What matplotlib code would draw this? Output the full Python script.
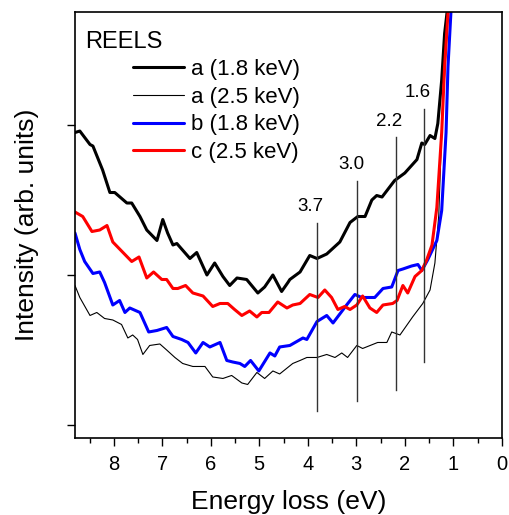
import matplotlib
matplotlib.use("Agg")
from matplotlib import pyplot as plt
from matplotlib.ticker import MultipleLocator

plt.rcParams['font.family'] = ['Liberation Sans', 'DejaVu Sans']

# spectra: energy loss (eV), intensity (arb. units)
a18_x = [8.80, 8.70, 8.49, 8.43, 8.23, 8.08, 7.98, 7.73, 7.63, 7.46, 7.32, 7.11, 6.99, 6.89,
         6.78, 6.70, 6.43, 6.29, 6.08, 5.92, 5.75, 5.61, 5.46, 5.26, 5.03, 4.89, 4.72, 4.54,
         4.41, 4.37, 4.16, 3.96, 3.81, 3.61, 3.34, 3.13, 2.97, 2.82, 2.68, 2.58, 2.47, 2.21,
         2.00, 1.75, 1.65, 1.59, 1.48, 1.38, 1.32, 1.24, 1.18, 1.13, 1.11]
a18_y = [1.95, 1.96, 1.87, 1.86, 1.70, 1.55, 1.55, 1.48, 1.48, 1.39, 1.30, 1.23, 1.37, 1.28,
         1.20, 1.21, 1.11, 1.15, 1.00, 1.08, 0.99, 0.93, 0.98, 0.97, 0.88, 0.92, 1.00, 0.89,
         0.95, 0.97, 1.02, 1.13, 1.11, 1.14, 1.22, 1.35, 1.39, 1.39, 1.50, 1.53, 1.52, 1.63,
         1.68, 1.77, 1.88, 1.87, 1.93, 1.91, 2.01, 2.30, 2.61, 2.75, 2.85]

a25_x = [8.80, 8.70, 8.49, 8.35, 8.19, 8.02, 7.84, 7.71, 7.61, 7.51, 7.40, 7.26, 7.05, 6.91,
         6.74, 6.58, 6.37, 6.12, 5.96, 5.75, 5.57, 5.36, 5.24, 5.05, 4.89, 4.72, 4.58, 4.31,
         4.16, 4.02, 3.81, 3.61, 3.44, 3.30, 3.18, 2.99, 2.87, 2.56, 2.37, 2.27, 2.10, 1.84,
         1.63, 1.48, 1.38, 1.30, 1.26, 1.22, 1.13, 1.11, 1.09]
a25_y = [0.93, 0.85, 0.73, 0.75, 0.71, 0.70, 0.67, 0.58, 0.60, 0.57, 0.47, 0.53, 0.54, 0.50,
         0.45, 0.41, 0.39, 0.39, 0.32, 0.31, 0.33, 0.28, 0.27, 0.35, 0.31, 0.36, 0.34, 0.41,
         0.43, 0.45, 0.45, 0.47, 0.45, 0.48, 0.45, 0.53, 0.51, 0.55, 0.55, 0.62, 0.60, 0.72,
         0.81, 0.90, 1.08, 1.40, 1.77, 2.10, 2.61, 2.75, 2.85]

b18_x = [8.80, 8.70, 8.60, 8.43, 8.29, 8.19, 8.02, 7.88, 7.77, 7.67, 7.46, 7.28, 7.11, 6.91,
         6.78, 6.60, 6.47, 6.31, 6.16, 6.02, 5.81, 5.67, 5.55, 5.40, 5.30, 5.18, 5.01, 4.78,
         4.68, 4.58, 4.37, 4.10, 4.02, 3.81, 3.61, 3.48, 3.20, 3.03, 2.89, 2.62, 2.45, 2.27,
         2.14, 2.04, 1.86, 1.73, 1.65, 1.53, 1.34, 1.24, 1.15, 1.11, 1.05, 1.03]
b18_y = [1.28, 1.17, 1.09, 1.01, 1.02, 0.95, 0.80, 0.83, 0.75, 0.78, 0.75, 0.62, 0.63, 0.65,
         0.59, 0.57, 0.55, 0.48, 0.55, 0.52, 0.55, 0.43, 0.42, 0.41, 0.39, 0.43, 0.36, 0.48,
         0.46, 0.52, 0.53, 0.58, 0.57, 0.69, 0.73, 0.68, 0.80, 0.87, 0.85, 0.85, 0.91, 0.92,
         1.03, 1.04, 1.06, 1.07, 1.03, 1.10, 1.23, 1.43, 1.95, 2.39, 2.75, 2.85]

c25_x = [8.80, 8.64, 8.45, 8.29, 8.14, 8.02, 7.81, 7.63, 7.48, 7.32, 7.18, 7.01, 6.91, 6.78,
         6.68, 6.52, 6.37, 6.16, 5.96, 5.81, 5.65, 5.51, 5.36, 5.20, 5.05, 4.95, 4.80, 4.62,
         4.43, 4.31, 4.16, 3.96, 3.79, 3.65, 3.51, 3.38, 3.24, 3.13, 2.99, 2.87, 2.72, 2.58,
         2.45, 2.25, 2.16, 2.04, 1.94, 1.79, 1.65, 1.55, 1.44, 1.38, 1.34, 1.24, 1.18, 1.11, 1.09]
c25_y = [1.42, 1.39, 1.29, 1.30, 1.33, 1.22, 1.15, 1.09, 1.12, 0.98, 1.02, 0.97, 0.97, 0.91,
         0.91, 0.93, 0.88, 0.86, 0.79, 0.81, 0.81, 0.77, 0.73, 0.76, 0.72, 0.75, 0.75, 0.82,
         0.78, 0.80, 0.81, 0.87, 0.85, 0.90, 0.85, 0.77, 0.79, 0.77, 0.80, 0.86, 0.78, 0.75,
         0.80, 0.81, 0.83, 0.93, 0.88, 0.99, 1.03, 1.10, 1.20, 1.35, 1.45, 1.95, 2.39, 2.75, 2.85]

# band gap markers
mark_pos = [3.82, 2.98, 2.19, 1.61]
mark_lab = ["3.7", "3.0", "2.2", "1.6"]
mark_top = [1.35, 1.63, 1.92, 2.11]
mark_bot = [0.09, 0.16, 0.23, 0.42]

fig = plt.figure(figsize=(5.1, 5.15), dpi=100)
ax = fig.add_axes([0.147, 0.1495, 0.837, 0.827])

kw = dict(solid_joinstyle='round', solid_capstyle='round')
ax.plot(a18_x, a18_y, color='black', lw=2.2, label='a (1.8 keV)', **kw)
ax.plot(a25_x, a25_y, color='black', lw=0.8, label='a (2.5 keV)', **kw)
ax.plot(b18_x, b18_y, color='#0000ff', lw=2.2, label='b (1.8 keV)', **kw)
ax.plot(c25_x, c25_y, color='#ff0000', lw=2.2, label='c (2.5 keV)', **kw)

for p, l, t, b in zip(mark_pos, mark_lab, mark_top, mark_bot):
    ax.plot([p, p], [b, t], color='#333333', lw=1.0)
    ax.text(p + 0.13, t + 0.05, l, ha='center', va='bottom', fontsize=13.5)

ax.set_xlim(8.8, 0)
ax.set_ylim(-0.087, 2.753)
ax.xaxis.set_major_locator(MultipleLocator(1))
ax.xaxis.set_minor_locator(MultipleLocator(0.5))
ax.set_yticks([0, 1, 2])
ax.set_yticklabels([])
ax.tick_params(axis='both', which='major', direction='out', length=6, width=1, labelsize=14.5, pad=6)
ax.tick_params(axis='x', which='minor', direction='out', length=3.5, width=1)
for s in ax.spines.values():
    s.set_linewidth(1.2)

ax.set_xlabel('Energy loss (eV)', fontsize=19, labelpad=12)
ax.set_ylabel('Intensity (arb. units)', fontsize=19, labelpad=14)

ax.text(0.023, 0.955, 'REELS', transform=ax.transAxes, fontsize=17, va='top', ha='left')
ax.legend(loc='upper left', bbox_to_anchor=(0.135, 0.89), frameon=False, fontsize=16,
          handlelength=2.3, handletextpad=0.35, labelspacing=0.3, borderaxespad=0, borderpad=0)

fig.savefig('out.png', dpi=100)
